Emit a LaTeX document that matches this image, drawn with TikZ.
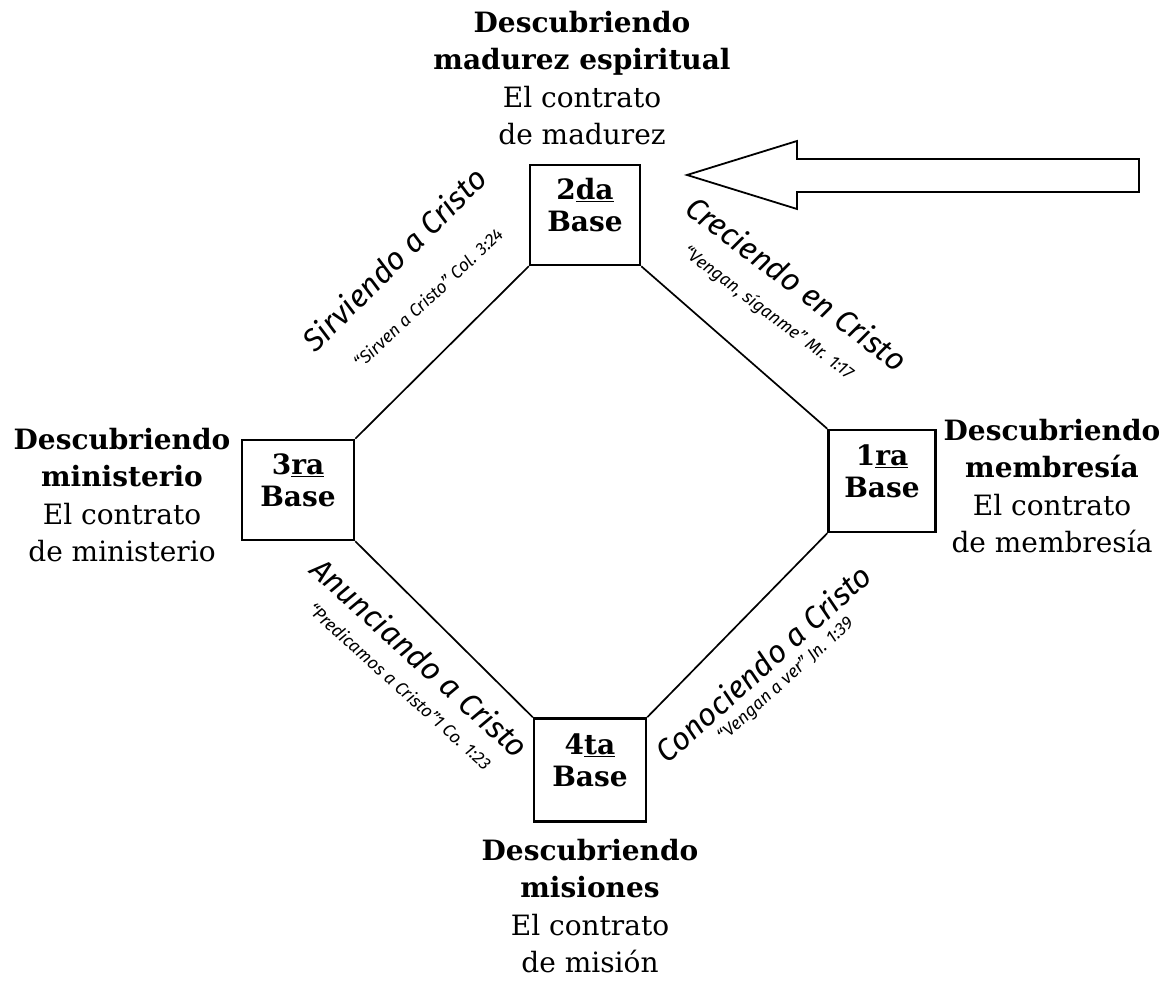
\documentclass[tikz,border=0pt]{standalone}
\usepackage{fontspec}
\setmainfont{DejaVu Serif}
\newfontfamily\handf{Fira Sans}
\tikzset{
  basebox/.style={draw,line width=2.5pt,minimum width=110pt,minimum height=100pt,inner sep=0pt},
  basetxt/.style={font=\fontsize{28}{32}\selectfont\bfseries,align=center,inner sep=0pt},
  grp/.style={align=center,inner sep=0pt,anchor=north,font=\fontsize{28}{37.5}\selectfont},
  conn/.style={line width=1.7pt},
  lab/.style={font=\handf\itshape\fontsize{31}{33}\selectfont,inner sep=0pt},
  sublab/.style={font=\handf\itshape\fontsize{17.5}{19}\selectfont,inner sep=0pt}
}
\begin{document}
\begin{tikzpicture}[x=1pt,y=1pt]
\useasboundingbox (0,0) rectangle (1175,983);
% boxes
\node[basebox] (b2) at (585,768) {};
\node[basebox,minimum width=112pt] (b3) at (298,493) {};
\node[basebox,minimum width=107pt,minimum height=102pt] (b1) at (882,502) {};
\node[basebox,minimum width=112pt,minimum height=103pt] (b4) at (590,213) {};
\node[basetxt] (t2) at ([yshift=10pt]b2.center) {2\underline{da}\\Base};
\node[basetxt] (t3) at ([yshift=10pt]b3.center) {3\underline{ra}\\Base};
\node[basetxt] (t1) at ([yshift=10pt]b1.center) {1\underline{ra}\\Base};
\node[basetxt] (t4) at ([yshift=10pt]b4.center) {4\underline{ta}\\Base};
% connectors
\draw[conn] (b2.south west) -- (b3.north east);
\draw[conn] (b2.south east) -- (b1.north west);
\draw[conn] (b3.south east) -- (b4.north west);
\draw[conn] (b4.north east) -- (b1.south west);
% arrow
\draw[line width=1.8pt,line join=miter] (687,808) -- (797,842) -- (797,824) -- (1139,824) -- (1139,791) -- (797,791) -- (797,774) -- cycle;
% group texts
\node[grp] (gtop) at (582,972) {\textbf{Descubriendo}\\\textbf{madurez espiritual}\\El contrato\\de madurez};
\node[grp] (gleft) at (122,555) {\textbf{Descubriendo}\\\textbf{ministerio}\\El contrato\\de ministerio};
\node[grp] (gright) at (1052,564) {\textbf{Descubriendo}\\\textbf{membresía}\\El contrato\\de membresía};
\node[grp] (gbot) at (590,144) {\textbf{Descubriendo}\\\textbf{misiones}\\El contrato\\de misión};
% labels
\node[lab,rotate=45] (l1) at (394,724) {Sirviendo a Cristo};
\node[sublab,rotate=43] (s1) at (428,685) {“Sirven a Cristo” Col. 3:24};
\node[lab,rotate=-37] (l2) at (797,700) {Creciendo en Cristo};
\node[sublab,rotate=-37] (s2) at (768,670) {“Vengan, síganme” Mr. 1:17};
\node[lab,rotate=-42] (l3) at (420,326) {Anunciando a Cristo};
\node[sublab,rotate=-42] (s3) at (400,297) {“Predicamos a Cristo”1 Co. 1:23};
\node[lab,rotate=42] (l4) at (763,320) {Conociendo a Cristo};
\node[sublab,rotate=42] (s4) at (786,303) {“Vengan a ver” Jn. 1:39};
\end{tikzpicture}
\end{document}
